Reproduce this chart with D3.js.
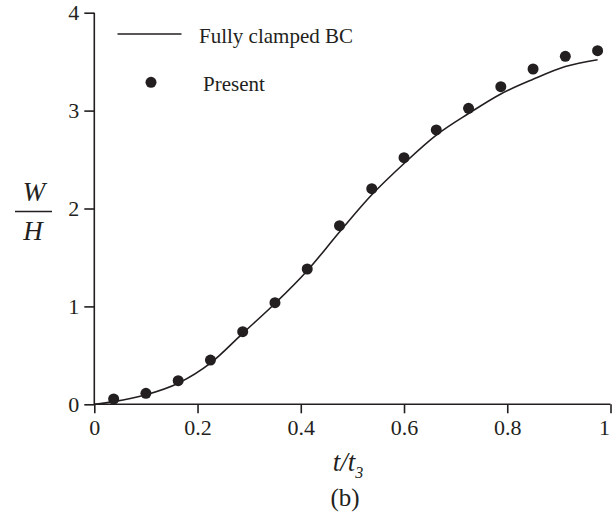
<!DOCTYPE html>
<html><head><meta charset="utf-8">
<script src="https://cdn.jsdelivr.net/npm/d3@7"></script>
<style>body{margin:0;background:#fff}svg{display:block}text{font-family:"Liberation Serif","Times New Roman",serif;fill:#231f20}</style>
</head><body>
<svg id="c" width="613" height="527"></svg>
<script>
const xTicks = [0, 0.2, 0.4, 0.6, 0.8, 1];
const xTickLabels = ["0", "0.2", "0.4", "0.6", "0.8", "1"];
const yTicks = [0, 1, 2, 3, 4];
const yTickLabels = ["0", "1", "2", "3", "4"];

// Fully clamped BC (solid line)
const lineX = [0, 0.0375, 0.1, 0.1625, 0.225, 0.2875, 0.35, 0.4125, 0.475, 0.5375, 0.6, 0.6625, 0.725, 0.7875, 0.85, 0.9125, 0.975];
const lineY = [0, 0.027, 0.097, 0.215, 0.42, 0.725, 1.03, 1.365, 1.76, 2.14, 2.46, 2.75, 2.97, 3.17, 3.32, 3.45, 3.52];

// Present (dots)
const dotX = [0.0375, 0.1, 0.1625, 0.225, 0.2875, 0.35, 0.4125, 0.475, 0.5375, 0.6, 0.6625, 0.725, 0.7875, 0.85, 0.9125, 0.975];
const dotY = [0.054, 0.112, 0.241, 0.452, 0.742, 1.038, 1.382, 1.824, 2.202, 2.519, 2.802, 3.023, 3.244, 3.425, 3.555, 3.612];

const ink = "#231f20";
const svg = d3.select("#c");
const x = d3.scaleLinear().domain([0, 1]).range([94.3, 610.5]);
const y = d3.scaleLinear().domain([0, 4]).range([404.3, 12.7]);

const xa = svg.append("g").attr("transform", `translate(0,${y(0)})`)
  .call(d3.axisBottom(x).tickValues(xTicks).tickFormat((d,i)=>xTickLabels[i]).tickSize(9).tickPadding(6));
const ya = svg.append("g").attr("transform", `translate(${x(0)},0)`)
  .call(d3.axisLeft(y).tickValues(yTicks).tickFormat((d,i)=>yTickLabels[i]).tickSize(10).tickPadding(5));
[xa, ya].forEach(a => {
  a.select(".domain").attr("stroke", ink).attr("stroke-width", 1.6);
  a.selectAll(".tick line").attr("stroke", ink).attr("stroke-width", 1.6);
  a.selectAll(".tick text").attr("font-size", 22).attr("fill", ink)
    .style("font-family", '"Liberation Serif","Times New Roman",serif');
});
xa.select(".domain").attr("d", `M${x(0)},0H${x(1)}`);
ya.select(".domain").attr("d", `M0,${y(0)}V${y(4)}`);
// keep the last x label inside the picture
xa.selectAll(".tick text").filter((d)=>d === 1).attr("text-anchor", "end").attr("dx", -1);

const line = d3.line().x((d,i)=>x(lineX[i])).y((d,i)=>y(lineY[i])).curve(d3.curveMonotoneX);
svg.append("path").datum(lineX).attr("d", line).attr("fill", "none").attr("stroke", ink).attr("stroke-width", 1.6);

svg.append("g").selectAll("circle").data(dotX).join("circle")
  .attr("cx", (d)=>x(d)).attr("cy", (d,i)=>y(dotY[i])).attr("r", 5.5).attr("fill", ink);

// legend
svg.append("line").attr("x1", 117.5).attr("x2", 181.5).attr("y1", 34).attr("y2", 34).attr("stroke", ink).attr("stroke-width", 1.6);
svg.append("text").attr("x", 199).attr("y", 43).attr("font-size", 21).text("Fully clamped BC");
svg.append("circle").attr("cx", 151).attr("cy", 82.3).attr("r", 5.5).attr("fill", ink);
svg.append("text").attr("x", 203).attr("y", 91).attr("font-size", 21).text("Present");

// y label fraction
svg.append("text").attr("x", 34).attr("y", 201).attr("text-anchor", "middle").attr("font-size", 27).attr("font-style", "italic").text("W");
svg.append("line").attr("x1", 15).attr("x2", 52).attr("y1", 211.5).attr("y2", 211.5).attr("stroke", ink).attr("stroke-width", 1.5);
svg.append("text").attr("x", 33).attr("y", 240).attr("text-anchor", "middle").attr("font-size", 27).attr("font-style", "italic").text("H");

// x label
const xl = svg.append("text").attr("x", 348).attr("y", 471).attr("text-anchor", "middle").attr("font-size", 27).attr("font-style", "italic");
xl.append("tspan").text("t/t");
xl.append("tspan").attr("font-size", 16).attr("dy", 7).text("3");

svg.append("text").attr("x", 345).attr("y", 506).attr("text-anchor", "middle").attr("font-size", 25).text("(b)");
</script>
</body></html>
